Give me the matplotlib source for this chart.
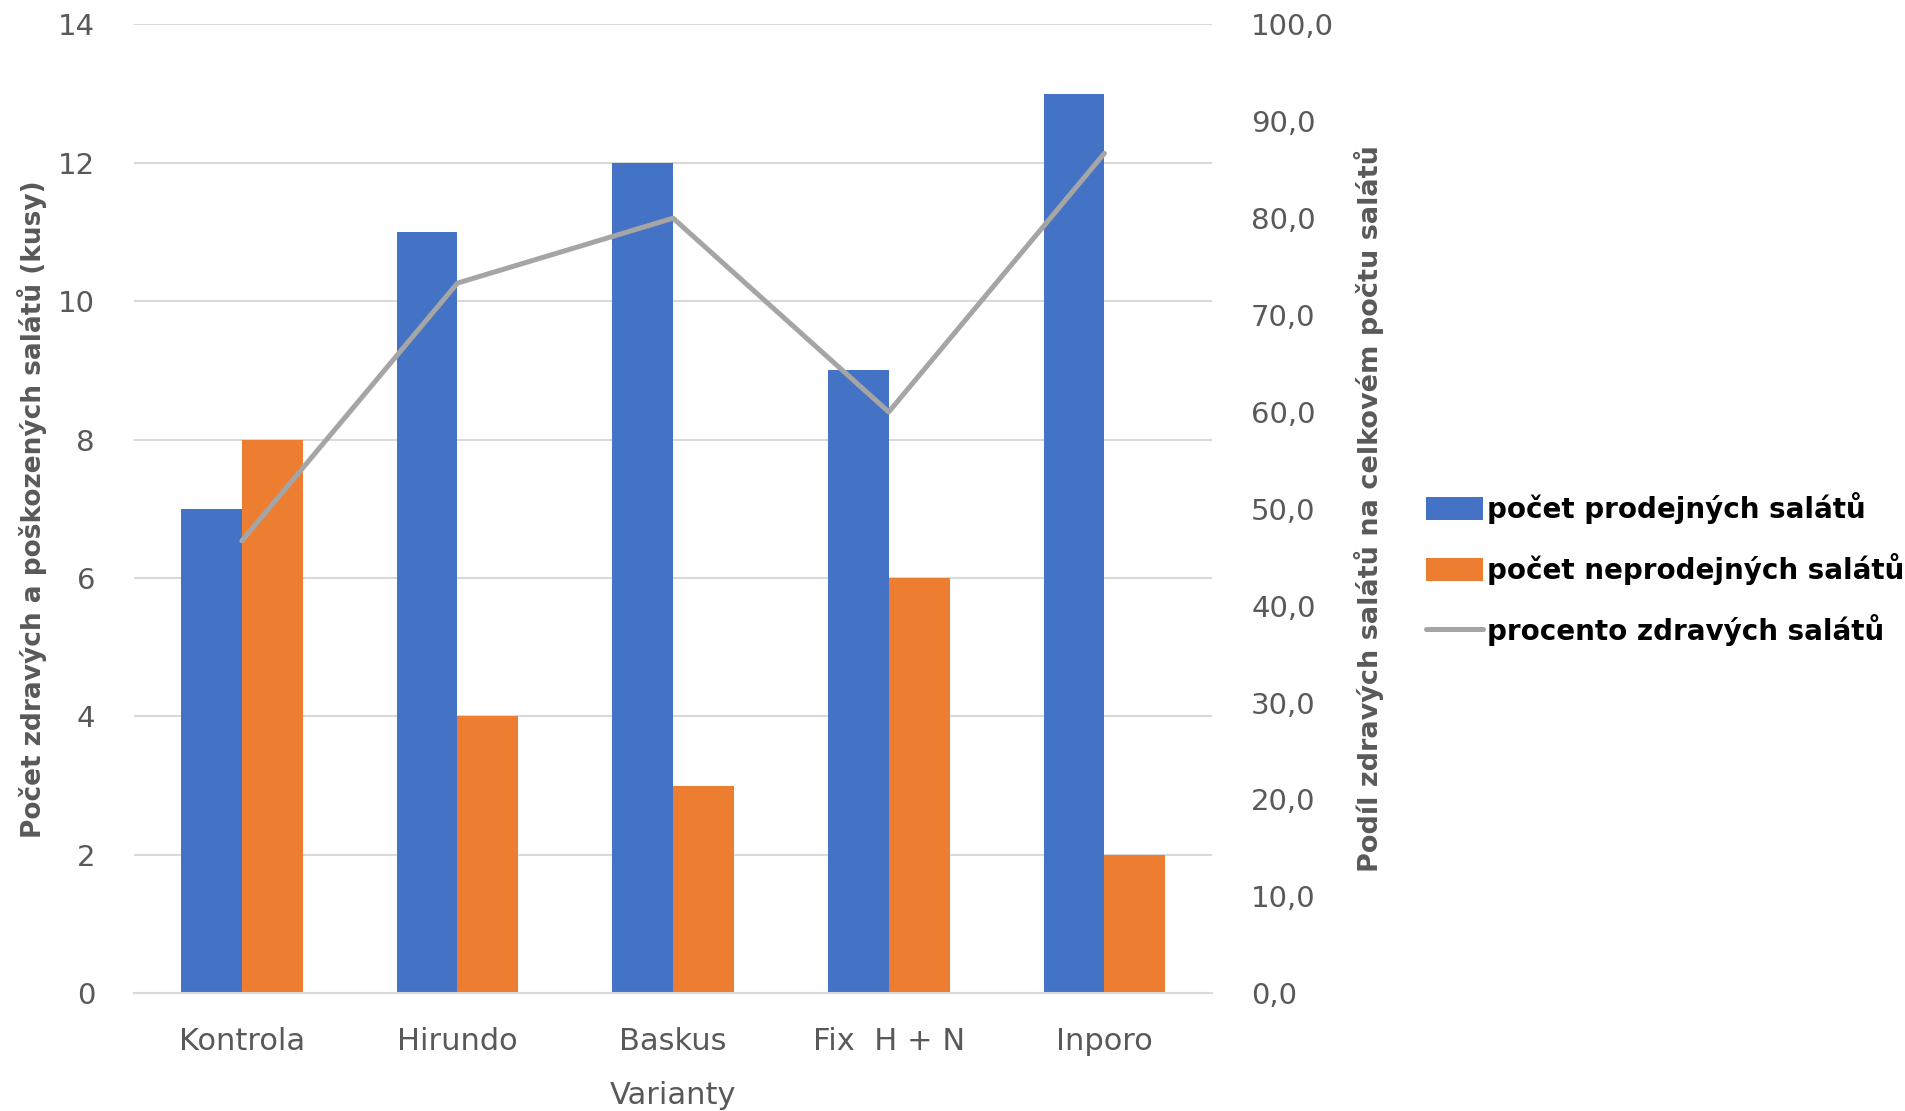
import matplotlib.pyplot as plt
import numpy as np

varianty = ['Kontrola', 'Hirundo', 'Baskus', 'Fix  H + N', 'Inporo']
prodejne = [7, 11, 12, 9, 13]
neprodejne = [8, 4, 3, 6, 2]
procento = [46.7, 73.3, 80.0, 60.0, 86.7]

modra = '#4472C4'
oranzova = '#ED7D31'
seda = '#A5A5A5'
mrizka = '#D9D9D9'
text_barva = '#595959'

fig = plt.figure(figsize=(19.06, 11.11), dpi=100)
ax = fig.add_axes([0.0703, 0.106, 0.5657, 0.872])
ax2 = ax.twinx()

x = np.arange(len(varianty))
w = 0.282
b1 = ax.bar(x - w / 2, prodejne, w, color=modra, label='počet prodejných salátů', zorder=2)
b2 = ax.bar(x + w / 2, neprodejne, w, color=oranzova, label='počet neprodejných salátů', zorder=2)
l1, = ax2.plot(x, procento, color=seda, lw=3.6, label='procento zdravých salátů',
               solid_capstyle='round')

ax.set_xlim(-0.5, len(varianty) - 0.5)
ax.set_ylim(0, 14)
ax.set_yticks(range(0, 15, 2))
ax2.set_ylim(0, 100)
ax2.set_yticks(range(0, 101, 10))
ax2.set_yticklabels(['%d,0' % v for v in range(0, 101, 10)])

ax.yaxis.grid(True, color=mrizka, lw=1.5, zorder=0)
ax.set_axisbelow(True)
for a in (ax, ax2):
    for s in a.spines.values():
        s.set_visible(False)
    a.tick_params(length=0, labelsize=21, colors=text_barva)
ax.spines['bottom'].set_visible(True)
ax.spines['bottom'].set_color(mrizka)
ax.spines['bottom'].set_linewidth(1.5)

ax.set_xticks(x)
ax.set_xticklabels(varianty, family='DejaVu Sans Condensed', fontsize=22)
ax.tick_params(axis='x', pad=24)
ax.tick_params(axis='y', pad=28)
ax2.tick_params(axis='y', pad=28)

ax.set_xlabel('Varianty', family='DejaVu Sans Condensed', fontsize=22, color=text_barva, labelpad=18)
ax.set_ylabel('Počet zdravých a poškozených salátů (kusy)', family='DejaVu Sans Condensed',
              fontsize=19, fontweight='bold', color=text_barva, labelpad=8)
ax2.set_ylabel('Podíl zdravých salátů na celkovém počtu salátů', family='DejaVu Sans Condensed',
               fontsize=19.5, fontweight='bold', color=text_barva, labelpad=14)

leg = fig.legend([b1, b2, l1], [b1.get_label(), b2.get_label(), l1.get_label()],
                 loc='center left', bbox_to_anchor=(0.748, 0.488), frameon=False,
                 prop={'weight': 'bold', 'size': 20}, handlelength=2.05, handleheight=0.9,
                 handletextpad=0.15, labelspacing=1.05, borderaxespad=0, borderpad=0)

fig.savefig('out.png', dpi=100)
